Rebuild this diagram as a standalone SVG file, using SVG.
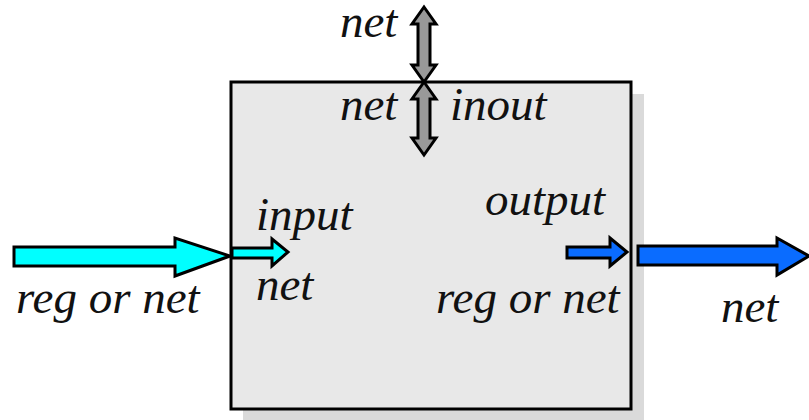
<svg xmlns="http://www.w3.org/2000/svg" width="809" height="420" viewBox="0 0 809 420">
<style>
.t{font-size:47px;fill:#111}
.a{stroke:#000;stroke-width:3;stroke-linejoin:miter}
.cy{fill:#00ffff}
.bl{fill:#0a6cff}
.gr{fill:#999999}
</style>
<rect width="809" height="420" fill="#ffffff"/>
<g id="module">
<rect x="243" y="94" width="401" height="330" fill="#dadada"/>
<rect x="231" y="82" width="400" height="327" fill="#e8e8e8" stroke="#000" stroke-width="3"/>
</g>
<g id="connectors">
<path class="a gr" d="M424,7 L436,24 L430,24 L430,65 L436,65 L424,82 L412,65 L418,65 L418,24 L412,24 Z"/>
<path class="a gr" d="M424,82 L436,99 L430,99 L430,138 L436,138 L424,155 L412,138 L418,138 L418,99 L412,99 Z"/>
<path class="a cy" d="M14,247 L175,247 L175,238 L230,256 L175,276 L175,266 L14,266 Z"/>
<path class="a cy" d="M232,248 L272,248 L272,239 L288,252 L272,266 L272,258 L232,258 Z"/>
<path class="a bl" d="M567,247 L610,247 L610,238 L627,252 L610,266 L610,258 L567,258 Z"/>
<path class="a bl" d="M638,246 L777,246 L777,238 L809,256 L777,275 L777,265 L638,265 Z"/>
</g>
<g id="labels" font-family="'Liberation Serif', 'DejaVu Serif', 'Noto Serif', serif" font-style="italic">
<text class="t" x="340" y="37">net</text>
<text class="t" x="340" y="120">net</text>
<text class="t" x="450" y="120">inout</text>
<text class="t" x="256" y="230">input</text>
<text class="t" x="256" y="300">net</text>
<text class="t" x="16" y="313">reg or net</text>
<text class="t" x="485" y="215">output</text>
<text class="t" x="436" y="313">reg or net</text>
<text class="t" x="721" y="322">net</text>
</g>
</svg>
